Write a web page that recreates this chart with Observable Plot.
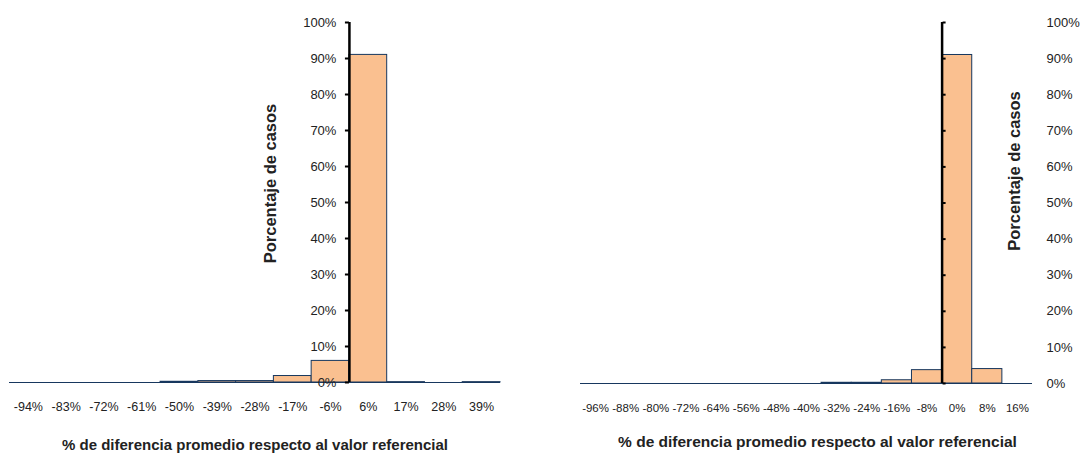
<!DOCTYPE html>
<html>
<head>
<meta charset="utf-8">
<script src="https://cdn.jsdelivr.net/npm/d3@7"></script>
<script src="https://cdn.jsdelivr.net/npm/@observablehq/plot@0.6"></script>
<style>
  html, body { margin: 0; padding: 0; background: #ffffff; }
  #wrap { position: relative; width: 1083px; height: 453px; overflow: hidden; }
  #left { position: absolute; left: 0; top: 0; }
  #right { position: absolute; left: 541px; top: 0; }
</style>
</head>
<body>
<div id="wrap"><div id="left"></div><div id="right"></div></div>
<script>
// ---- data ----
const leftCategories = ["-94%","-83%","-72%","-61%","-50%","-39%","-28%","-17%","-6%","6%","17%","28%","39%"];
const leftValues = [0, 0, 0, 0, 0.2, 0.4, 0.4, 1.8, 6.0, 91.0, 0.1, 0, 0.1];
const rightCategories = ["-96%","-88%","-80%","-72%","-64%","-56%","-48%","-40%","-32%","-24%","-16%","-8%","0%","8%","16%"];
const rightValues = [0, 0, 0, 0, 0, 0, 0, 0, 0.2, 0.2, 0.9, 3.7, 91.0, 4.0, 0];
const yTicks = [0, 10, 20, 30, 40, 50, 60, 70, 80, 90, 100];
const xTitle = "% de diferencia promedio respecto al valor referencial";
const yTitle = "Porcentaje de casos";
const leftAxisAt = 9;   // y axis crosses before category "6%"
const rightAxisAt = 12; // y axis crosses before category "0%"

const FILL = "#FAC090", EDGE = "#17375E";
const FONT = "Arial, 'Liberation Sans', sans-serif";
const pct = d => d + "%";

function rows(cats, vals) {
  return cats.map((c, i) => ({cat: c, i, v: vals[i]}));
}

// ---- left chart ----
{
  const W = 541, H = 453, ml = 9, mr = 41, mt = 22, mb = 71;
  const n = leftCategories.length;
  const shift = leftAxisAt / n * (W - ml - mr);
  const data = rows(leftCategories, leftValues);
  const chart = Plot.plot({
    width: W, height: H,
    marginLeft: ml, marginRight: mr, marginTop: mt, marginBottom: mb,
    style: {fontFamily: FONT, fontSize: "12px", color: "#222", background: "white", overflow: "visible"},
    x: {domain: [0, n]},
    y: {domain: [0, 100]},
    marks: [
      Plot.rectY(data, {x1: "i", x2: d => d.i + 1, y: "v", fill: FILL, stroke: EDGE, strokeWidth: 1}),
      Plot.ruleY([0], {stroke: EDGE, strokeWidth: 1}),
      Plot.ruleX([leftAxisAt], {stroke: "black", strokeWidth: 2.5}),
      Plot.axisY({anchor: "left", dx: shift, ticks: yTicks, tickFormat: pct, tickSize: 4, tickPadding: 9,
                  stroke: "black", strokeWidth: 2, fontSize: 13, label: null}),
      Plot.axisX({ticks: leftCategories.map((_, i) => i + 0.5), tickFormat: d => leftCategories[Math.floor(d)],
                  tickSize: 0, tickPadding: 20, fontSize: 12.5, label: null}),
      Plot.text([xTitle], {frameAnchor: "bottom", dy: 67, fontWeight: "bold", fontSize: 15}),
      Plot.text([yTitle], {frameAnchor: "left", textAnchor: "middle", rotate: -90, dx: 261, dy: -19,
                           fontWeight: "bold", fontSize: 16.5})
    ]
  });
  document.getElementById("left").appendChild(chart);
}

// ---- right chart ----
{
  const W = 542, H = 453, ml = 39, mr = 51, mt = 22, mb = 70;
  const n = rightCategories.length;
  const shift = -(n - rightAxisAt) / n * (W - ml - mr);
  const data = rows(rightCategories, rightValues);
  const chart = Plot.plot({
    width: W, height: H,
    marginLeft: ml, marginRight: mr, marginTop: mt, marginBottom: mb,
    style: {fontFamily: FONT, fontSize: "12px", color: "#222", background: "white", overflow: "visible"},
    x: {domain: [0, n]},
    y: {domain: [0, 100]},
    marks: [
      Plot.rectY(data, {x1: "i", x2: d => d.i + 1, y: "v", fill: FILL, stroke: EDGE, strokeWidth: 1}),
      Plot.ruleY([0], {stroke: EDGE, strokeWidth: 1}),
      Plot.ruleX([rightAxisAt], {stroke: "black", strokeWidth: 2.5}),
      Plot.axisY({anchor: "right", dx: shift, ticks: yTicks, tickFormat: () => "", tickSize: 3,
                  stroke: "black", strokeWidth: 2, label: null}),
      Plot.axisY({anchor: "right", ticks: yTicks, tickFormat: pct, tickSize: 0, tickPadding: 14,
                  fontSize: 13, label: null}),
      Plot.axisX({ticks: rightCategories.map((_, i) => i + 0.5), tickFormat: d => rightCategories[Math.floor(d)],
                  tickSize: 0, tickPadding: 20, fontSize: 11.5, label: null}),
      Plot.text([xTitle], {frameAnchor: "bottom", dx: 11, dy: 63, fontWeight: "bold", fontSize: 15.5}),
      Plot.text([yTitle], {frameAnchor: "right", textAnchor: "middle", rotate: -90, dx: -18, dy: -32,
                           fontWeight: "bold", fontSize: 16.5})
    ]
  });
  document.getElementById("right").appendChild(chart);
}
</script>
</body>
</html>
